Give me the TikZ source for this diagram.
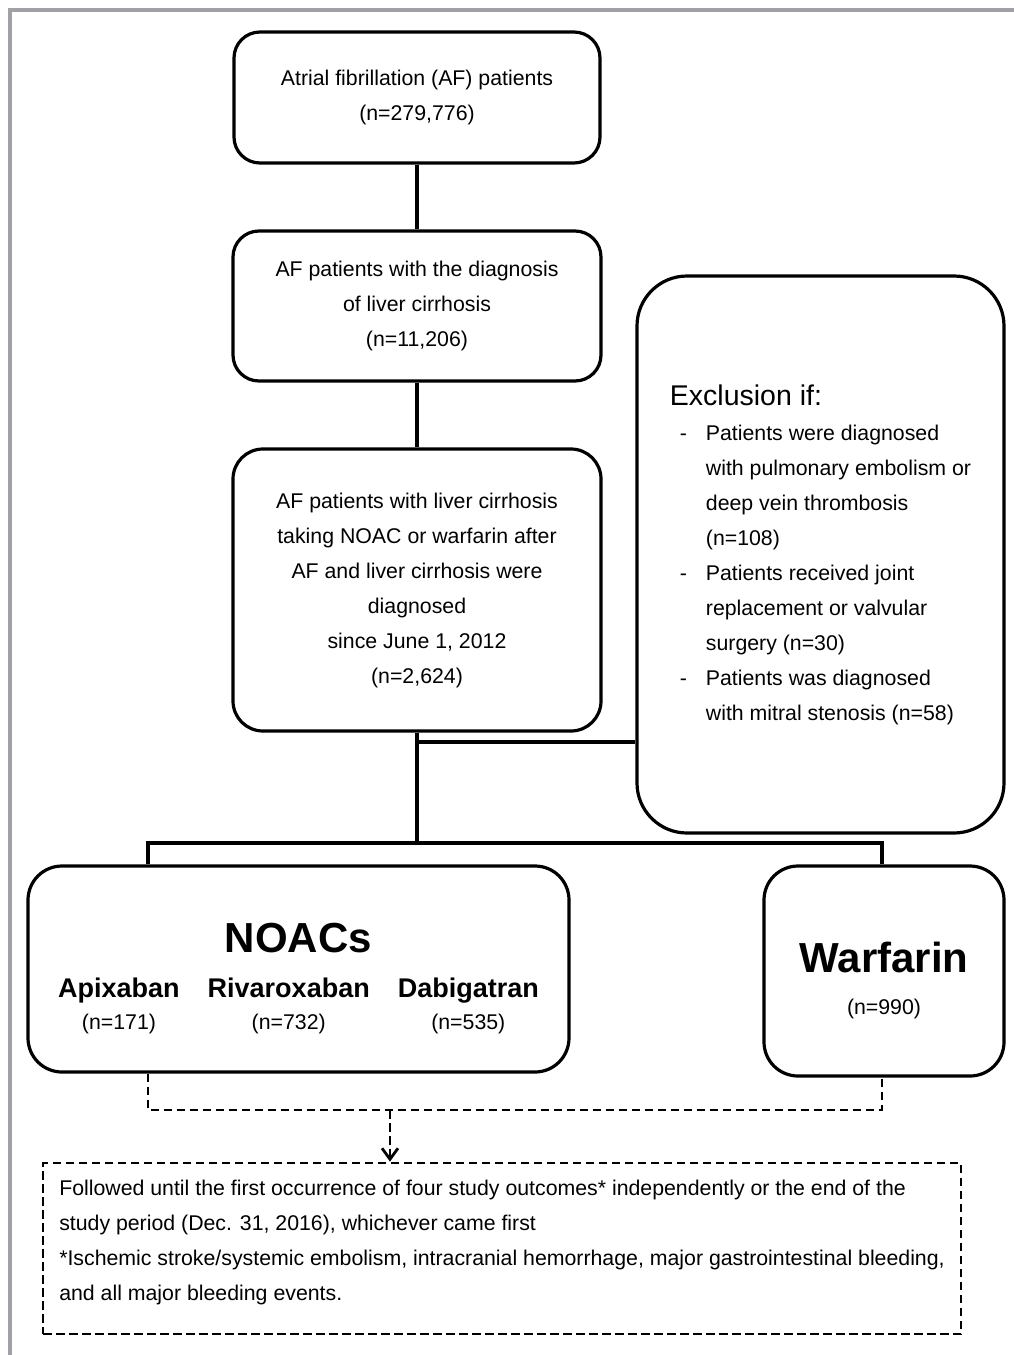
\documentclass[tikz,border=0pt]{standalone}
\usepackage{fontspec}
\setmainfont{Liberation Sans}
\usetikzlibrary{arrows.meta}
\definecolor{framegray}{RGB}{160,160,166}
\newcommand{\exdash}{\makebox[36pt][l]{\hspace{10pt}-}}
\newcommand{\exgap}{\hspace*{36pt}}
\newcommand{\drugname}[1]{{\fontsize{27}{32}\selectfont\bfseries #1}}
\renewcommand{\arraystretch}{0.92}

\begin{document}
\begin{tikzpicture}[x=1pt, y=-1pt,
    flowbox/.style={draw, line width=3.2pt, rounded corners=#1, align=center, inner sep=0pt,
        font=\fontsize{21.3}{35}\selectfont},
    flowbox/.default=26pt,
    followbox/.style={draw, line width=2.8pt, dash pattern=on 8.5pt off 4.5pt, align=left, inner sep=0pt,
        font=\fontsize{21.3}{35}\selectfont},
    link/.style={line width=3.2pt},
    dashlink/.style={line width=2.8pt, dash pattern=on 8.5pt off 4.5pt}]
    \useasboundingbox (0,0) rectangle (1014,1355);
    \draw[framegray, line width=4pt] (1020,10) -- (10,10) -- (10,1360);

    \node[flowbox, minimum width=366pt, minimum height=131pt] (afall) at (417,97.5)
        {Atrial fibrillation (AF) patients\\(n=279,776)};
    \node[flowbox, minimum width=368pt, minimum height=150pt] (afcirr) at (417,306)
        {AF patients with the diagnosis\\of liver cirrhosis\\(n=11,206)};
    \node[flowbox=30pt, minimum width=368pt, minimum height=282pt] (afdrug) at (417,590)
        {AF patients with liver cirrhosis\\taking NOAC or warfarin after\\AF and liver cirrhosis were\\diagnosed\\since June 1, 2012\\(n=2,624)};
    \node[flowbox=50pt, align=left, minimum width=367pt, minimum height=557pt] (exclude) at (820.5,554.5)
        {{\fontsize{28.5}{35}\selectfont Exclusion if:}\\
         \exdash Patients were diagnosed\\
         \exgap with pulmonary embolism or\\
         \exgap deep vein thrombosis\\
         \exgap (n=108)\\
         \exdash Patients received joint\\
         \exgap replacement or valvular\\
         \exgap surgery (n=30)\\
         \exdash Patients was diagnosed\\
         \exgap with mitral stenosis (n=58)};
    \node[flowbox=34pt, minimum width=541pt, minimum height=206pt] (noacs) at (298.5,969)
        {\begin{tabular}{@{}c@{\hspace{28pt}}c@{\hspace{28pt}}c@{}}
         \multicolumn{3}{c}{\rule{0pt}{54pt}\fontsize{42}{46}\selectfont\bfseries NOACs}\\[13pt]
         \drugname{Apixaban} & \drugname{Rivaroxaban} & \drugname{Dabigatran}\\
         (n=171) & (n=732) & (n=535)
         \end{tabular}};
    \node[flowbox=34pt, minimum width=240pt, minimum height=210pt] (warf) at (884,971)
        {\begin{tabular}{@{}c@{}}
         \rule{0pt}{55pt}\fontsize{42}{46}\selectfont\bfseries Warfarin\\[10pt]
         (n=990)
         \end{tabular}};
    \node[followbox, minimum width=918pt, minimum height=171pt] (follow) at (502,1248.5)
        {Followed until the first occurrence of four study outcomes* independently or the end of the\\
         study period (Dec. 31, 2016), whichever came first\\
         *Ischemic stroke/systemic embolism, intracranial hemorrhage, major gastrointestinal bleeding,\\
         and all major bleeding events.\rule[-17pt]{0pt}{0pt}};

    \coordinate (exjoin) at (417,742);
    \coordinate (split) at (417,843);
    \coordinate (noacjoin) at (148,843);
    \coordinate (warfjoin) at (882,843);
    \coordinate (noacout) at (148,1110);
    \coordinate (warfout) at (882,1110);
    \coordinate (followin) at (390,1110);

    \draw[link] (afall.south) -- (afcirr.north);
    \draw[link] (afcirr.south) -- (afdrug.north);
    \draw[link] (afdrug.south) -- (split);
    \draw[link] (exjoin) -- (exjoin -| exclude.west);
    \draw[link] (noacs.north -| noacjoin) -- (noacjoin) -- (warfjoin) -- (warf.north -| warfjoin);
    \draw[dashlink] (noacs.south -| noacout) -- (noacout) -- (warfout) -- (warf.south -| warfout);
    \draw[dashlink, -{Straight Barb[length=11pt, width=16pt]}] (followin) -- (follow.north -| followin);
\end{tikzpicture}
\end{document}
